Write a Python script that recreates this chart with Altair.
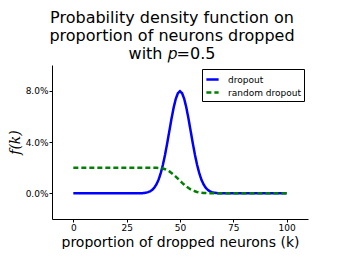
import altair as alt
import pandas as pd

# ---- data ----
series_names = ["dropout", "random dropout"]

dropout_k = [0, 31, 32, 33, 34, 35, 36, 37, 38, 39, 40, 41, 42, 43, 44, 45, 46, 47, 48, 49, 50,
             51, 52, 53, 54, 55, 56, 57, 58, 59, 60, 61, 62, 63, 64, 65, 66, 67, 68, 69, 100]
dropout_f = [0.0, 0.0001, 0.0001, 0.0002, 0.0005, 0.0009, 0.0016, 0.0027, 0.0045, 0.0071, 0.0108,
             0.0159, 0.0223, 0.0301, 0.0390, 0.0485, 0.0580, 0.0666, 0.0735, 0.0780, 0.0796,
             0.0780, 0.0735, 0.0666, 0.0580, 0.0485, 0.0390, 0.0301, 0.0223, 0.0159, 0.0108,
             0.0071, 0.0045, 0.0027, 0.0016, 0.0009, 0.0005, 0.0002, 0.0001, 0.0001, 0.0]

random_k = [0, 38, 39, 40, 41, 42, 43, 44, 45, 46, 47, 48, 49, 50, 51, 52, 53, 54, 55, 56, 57,
            58, 59, 60, 61, 62, 63, 64, 100]
random_f = [0.0200, 0.0200, 0.0199, 0.0198, 0.0196, 0.0193, 0.0188, 0.0181, 0.0171, 0.0159, 0.0145,
            0.0130, 0.0114, 0.0098, 0.0082, 0.0067, 0.0053, 0.0041, 0.0031, 0.0023, 0.0016,
            0.0011, 0.0007, 0.0005, 0.0003, 0.0002, 0.0001, 0.0, 0.0]

x_ticks = [0, 25, 50, 75, 100]
y_ticks = [0.0, 0.04, 0.08]
colors = ["#0000ff", "#008000"]

df = pd.concat([
    pd.DataFrame({"k": dropout_k, "f": dropout_f, "series": series_names[0], "order": range(len(dropout_k))}),
    pd.DataFrame({"k": random_k, "f": random_f, "series": series_names[1], "order": range(len(random_k))}),
])

legend = alt.Legend(
    title=None, orient="top-right", offset=4,
    strokeColor="black", fillColor="white", padding=3,
    labelFont="DejaVu Sans", labelFontSize=9, labelColor="black", labelLimit=200,
    symbolType="stroke", symbolSize=150, symbolStrokeWidth=2.5,
    rowPadding=0, labelOffset=8,
)

chart = alt.Chart(df).mark_line(strokeWidth=2.5).encode(
    x=alt.X("k:Q",
            scale=alt.Scale(domain=[-10, 110], nice=False, zero=False),
            axis=alt.Axis(values=x_ticks, title="proportion of dropped neurons (k)",
                          titleFont="DejaVu Sans", titleFontSize=14, titleFontWeight="normal",
                          titleColor="black", titlePadding=3, labelPadding=1)),
    y=alt.Y("f:Q",
            scale=alt.Scale(domain=[-0.02, 0.10], nice=False, zero=False),
            axis=alt.Axis(values=y_ticks, format=".1%", title="f(k)",
                          titleFont="DejaVu Serif", titleFontStyle="italic", titleFontSize=14,
                          titleFontWeight="normal", titleColor="black", titlePadding=3,
                          labelPadding=1)),
    color=alt.Color("series:N", scale=alt.Scale(domain=series_names, range=colors), legend=legend),
    strokeDash=alt.StrokeDash("series:N",
                              scale=alt.Scale(domain=series_names, range=[[1, 0], [5, 3]]),
                              legend=legend),
    order="order:Q",
).properties(
    width=256, height=154,
    autosize=alt.AutoSizeParams(type="none"),
    padding={"left": 44, "top": 57, "right": 27, "bottom": 30},
    title=alt.TitleParams(
        text=["Probability density function on", "proportion of neurons dropped", "with 𝑝=0.5"],
        font="DejaVu Sans", fontSize=16, fontWeight="normal", color="black",
        anchor="middle", lineHeight=18, offset=3, dx=-8,
    ),
).configure_view(stroke=None).configure_axis(
    grid=False, domainColor="black", tickColor="black", labelColor="black",
    labelFont="DejaVu Sans", labelFontSize=9, tickSize=3, domainWidth=1,
)

chart.save("out.html", embed_options={"renderer": "svg", "actions": False})
